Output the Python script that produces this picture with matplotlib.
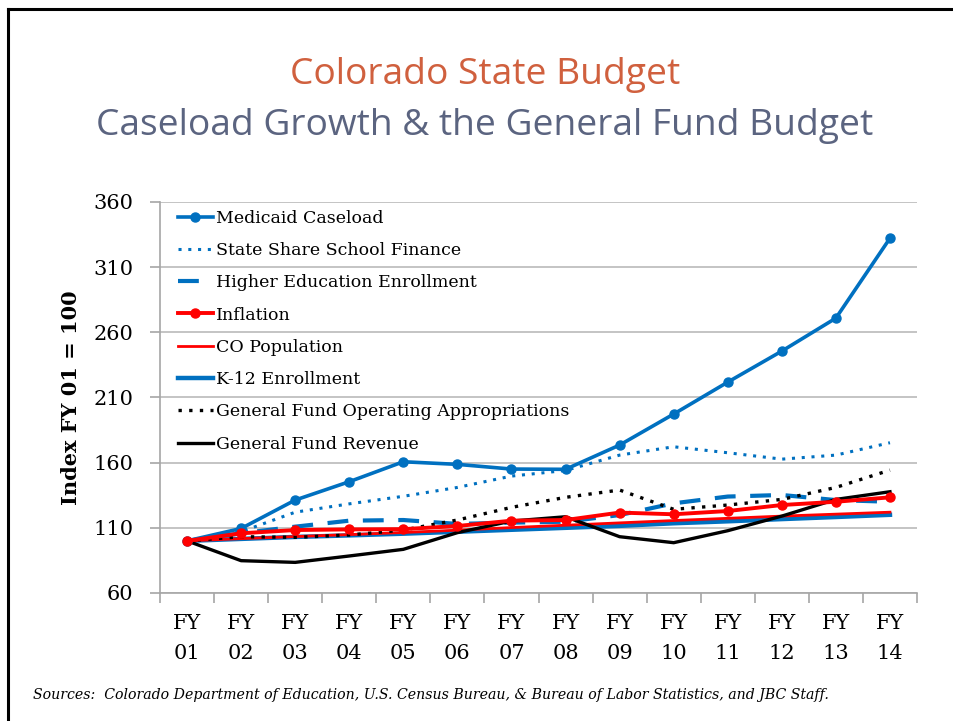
import matplotlib
matplotlib.use("Agg")
import matplotlib.pyplot as plt
import numpy as np

years = ["01", "02", "03", "04", "05", "06", "07", "08", "09", "10", "11", "12", "13", "14"]
x_labels = ["FY\n" + y for y in years]

medicaid = [100, 109.5, 131.3, 145.4, 160.7, 158.7, 155.1, 154.9, 173.5, 197.3, 221.8, 245.6, 270.9, 332.2]
school_finance = [100, 107, 122, 128.4, 134.2, 141, 149.7, 154, 165.8, 172.2, 167.6, 162.7, 165.8, 175.3]
higher_ed = [100, 105.8, 110.9, 115.5, 116, 113, 114, 114.7, 119.8, 128.8, 134, 135.2, 131.3, 130]
inflation = [100, 105.8, 108.3, 108.8, 109, 111.4, 115.5, 116, 121.7, 120.4, 122.9, 127.5, 130, 133.4]
co_population = [100, 101.7, 103.3, 104.8, 106.4, 108.2, 110.2, 112, 113.8, 115.6, 117.3, 119, 120.5, 122]
k12 = [100, 101.5, 103, 104.2, 105.5, 107, 108.5, 110, 111.5, 113.5, 115, 116.7, 118.3, 120]
gf_approp = [100, 103.2, 102.7, 104.5, 108.3, 116, 125.7, 133.4, 139, 124.2, 127.5, 131.8, 141, 154.3]
gf_revenue = [100, 84.8, 83.5, 88.4, 93.5, 106.3, 115.2, 118.5, 103.2, 98.6, 107.8, 119, 131.8, 137.7]

y_ticks = [60, 110, 160, 210, 260, 310, 360]

BLUE = "#0070C0"
RED = "#FF0000"
SERIF = "DejaVu Serif"

fig = plt.figure(figsize=(9.54, 7.21), dpi=100)
ax = fig.add_axes([160/954, 1-593/721, (917-160)/954, (593-202)/721])

x = np.arange(len(years))

ax.plot(x, medicaid, color=BLUE, lw=2.6, marker="o", ms=6.5, label="Medicaid Caseload", zorder=5)
ax.plot(x, school_finance, color=BLUE, lw=2.2, ls=(0, (1, 2.2)), label="State Share School Finance", zorder=4)
ax.plot(x, higher_ed, color=BLUE, lw=3.0, ls=(0, (5, 3.5)), label="Higher Education Enrollment", zorder=4)
ax.plot(x, inflation, color=RED, lw=2.8, marker="o", ms=6.5, label="Inflation", zorder=5)
ax.plot(x, co_population, color=RED, lw=2.0, label="CO Population", zorder=4)
ax.plot(x, k12, color=BLUE, lw=3.2, label="K-12 Enrollment", zorder=3)
ax.plot(x, gf_approp, color="black", lw=2.4, ls=(0, (1, 2.2)), label="General Fund Operating Appropriations", zorder=4)
ax.plot(x, gf_revenue, color="black", lw=2.4, label="General Fund Revenue", zorder=4)

ax.set_xlim(-0.5, len(years) - 0.5)
ax.set_ylim(60, 360)
ax.set_yticks(y_ticks)
ax.set_yticklabels([str(v) for v in y_ticks], fontsize=15, family=SERIF)
ax.set_xticks(x)
ax.set_xticklabels(x_labels, fontsize=15, family=SERIF, linespacing=1.75)
ax.set_xticks(np.arange(-0.5, len(years)), minor=True)
ax.tick_params(axis="x", which="major", length=0, pad=15)
ax.tick_params(axis="x", which="minor", length=7, color="#A6A6A6", width=1.2)
ax.tick_params(axis="y", length=7, color="#A6A6A6", width=1.2, pad=12)

ax.grid(axis="y", color="#BFBFBF", lw=1.3)
ax.set_axisbelow(True)
for s in ["top", "right"]:
    ax.spines[s].set_visible(False)
for s in ["left", "bottom"]:
    ax.spines[s].set_color("#A6A6A6")
    ax.spines[s].set_linewidth(1.2)

ax.set_ylabel("Index FY 01 = 100", fontsize=15, fontweight="bold", family=SERIF, labelpad=9)

leg = ax.legend(loc="upper left", bbox_to_anchor=(0.0145, 0.998), frameon=False,
                prop={"family": SERIF, "size": 12.5},
                handlelength=2.0, handletextpad=0.2, labelspacing=0.88, borderaxespad=0.0)

fig.text(485/954, 1-75/721, "Colorado State Budget", ha="center", va="center",
         fontsize=26.7, color="#D0603E", family="Open Sans")
fig.text(485/954, 1-126/721, "Caseload Growth & the General Fund Budget", ha="center", va="center",
         fontsize=26.7, color="#5B6480", family="Open Sans")
fig.text(33/954, 1-695/721,
         "Sources:  Colorado Department of Education, U.S. Census Bureau, & Bureau of Labor Statistics, and JBC Staff.",
         ha="left", va="center", fontsize=10.15, style="italic", family=SERIF)

# slide border (left and top)
fig.add_artist(plt.Line2D([8.5/954, 8.5/954], [0, 1-8.5/721], transform=fig.transFigure, color="black", lw=2.2))
fig.add_artist(plt.Line2D([8.5/954, 1], [1-8.5/721, 1-8.5/721], transform=fig.transFigure, color="black", lw=2.2))

fig.savefig("out.png", dpi=100)
